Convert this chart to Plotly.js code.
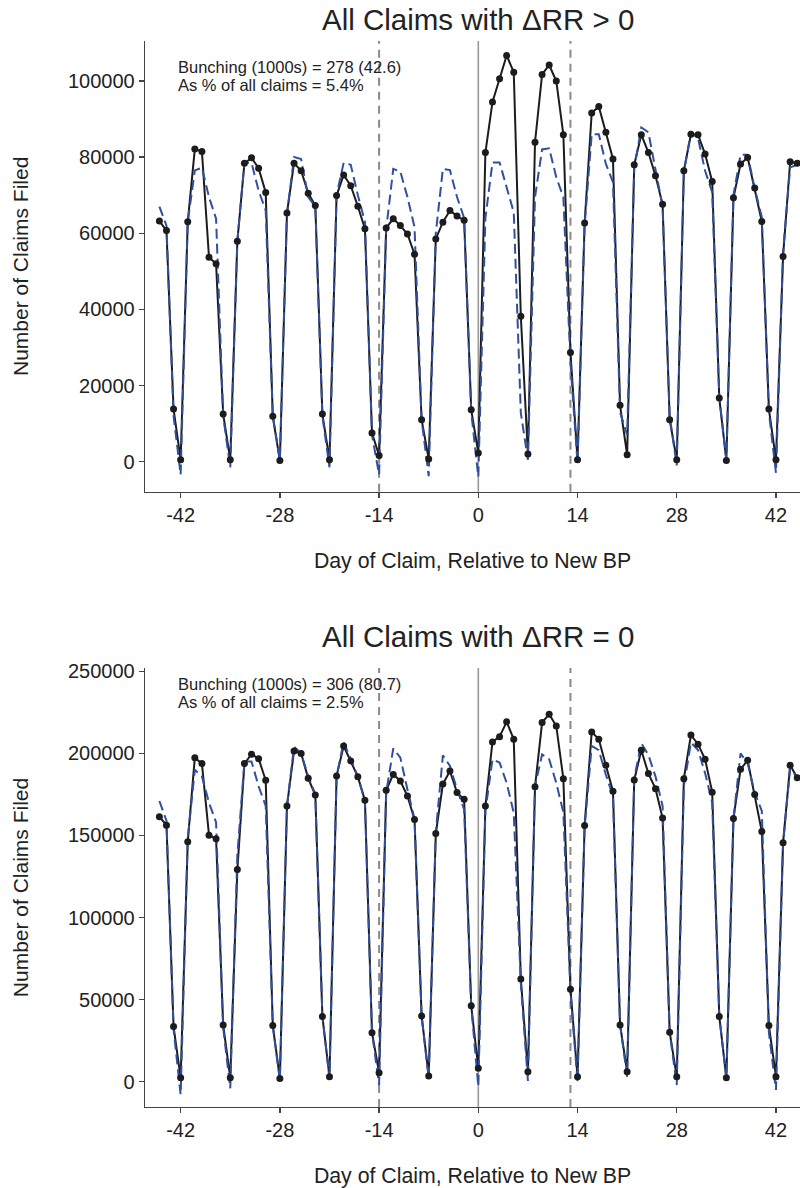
<!DOCTYPE html>
<html>
<head>
<meta charset="utf-8">
<script src="https://cdn.plot.ly/plotly-3.0.1.min.js"></script>
<style>
  html, body { margin: 0; padding: 0; background: #ffffff; overflow: hidden; }
  #chart { width: 800px; height: 1188px; }
</style>
</head>
<body>
<div id="chart"></div>
<script>
// Day of claim relative to the new benefit period
const days = [-45,-44,-43,-42,-41,-40,-39,-38,-37,-36,-35,-34,-33,-32,-31,-30,-29,-28,-27,-26,-25,-24,-23,-22,-21,-20,-19,-18,-17,-16,-15,-14,-13,-12,-11,-10,-9,-8,-7,-6,-5,-4,-3,-2,-1,
  0,1,2,3,4,5,6,7,8,9,10,11,12,13,14,15,16,17,18,19,20,21,22,23,24,25,26,27,28,29,30,31,32,33,34,35,36,37,38,39,40,41,42,43,44,45];

// Panel 1: claims with dRR > 0 — observed counts
const posObserved = [63200,60700,13800,500,63000,82100,81500,53700,52000,12500,500,57900,78400,79800,77100,70700,11900,300,65300,78400,76400,70500,67300,12500,500,69900,75300,72500,67100,61200,7500,1600,61400,63800,62000,59800,54500,11000,700,58500,62900,66000,64500,63400,13600,
  2300,81200,94500,100600,106700,102300,38200,2000,83900,101700,104200,100000,85900,28700,500,62700,91600,93300,86500,79500,14800,1800,78000,85900,81200,75100,67600,11000,500,76400,86000,85900,80800,73600,16700,300,69300,78200,79900,71900,63100,13800,500,53900,78800,78400];

// Panel 1: counterfactual counts
const posCounterfactual = [67000,62000,12000,-3400,63000,76500,77200,69500,63800,12000,-1600,58000,78600,78500,71200,66000,12000,500,65000,80000,79500,69500,67000,12000,-1500,70000,78500,78000,70000,63000,7000,-3400,61000,76900,76200,69500,61600,11000,-3800,60000,76900,76600,69500,64000,13000,
  -4000,64000,78600,78600,72000,65500,12800,500,69500,82000,82300,74700,69500,26000,-500,62000,86000,86000,78200,73400,13000,7000,77000,87800,86500,77000,67000,12000,-1000,76000,86500,85000,76400,70800,17000,500,70000,80600,80600,71700,64300,13000,-3000,55000,77300,78000];

// Panel 2: claims with dRR = 0 — observed counts
const zeroObserved = [161400,156300,33600,2400,146200,197400,193800,150200,148000,34600,2400,129200,193800,199500,196800,183600,34200,2000,167900,201500,199900,184800,174600,39700,3000,186200,204500,195400,185800,171400,29900,5500,177500,187200,183200,174000,159800,40100,3500,151200,181300,189300,176100,172000,46200,
  8200,167900,207000,210200,219200,208600,62500,6100,179700,218800,223900,216700,184600,56400,3100,156100,213100,208600,192700,177000,34600,6100,183800,201900,187700,178500,160600,30200,3100,184600,211200,205600,196400,176400,39700,2400,160400,190300,195800,175000,152400,34200,3100,145500,192700,185200];

// Panel 2: counterfactual counts
const zeroCounterfactual = [171000,159000,32000,-8000,148000,190000,186000,170000,158000,33000,-4000,138000,195000,195000,180000,168000,34000,1000,168000,204000,200000,186000,175000,40000,2000,186000,207000,196000,186000,171000,30000,-2000,176000,203000,197400,178000,160000,40000,2000,152000,198800,192300,178000,165800,46000,
  -3000,165000,196400,194400,182000,163800,60000,500,180000,199400,196400,182000,164000,55000,0,155000,204500,202000,187000,174000,35000,3000,185000,206200,199000,186000,168000,30000,-2000,180000,206600,202000,188000,170000,40000,2000,160000,200000,194000,176000,165000,30000,-5000,145000,191000,185000];

// Tick marks and reference days
const dayTicks = [-42, -28, -14, 0, 14, 28, 42];
const dayTickLabels = ['-42', '-28', '-14', '0', '14', '28', '42'];
const posTicks = [0, 20000, 40000, 60000, 80000, 100000];
const zeroTicks = [0, 50000, 100000, 150000, 200000, 250000];
const windowEdges = [-14, 13];
const newBpDay = 0;

const panelTitles = ['All Claims with \u0394RR > 0', 'All Claims with \u0394RR = 0'];
const bunchingLines = [
  ['Bunching (1000s) = 278 (42.6)', 'As % of all claims = 5.4%'],
  ['Bunching (1000s) = 306 (80.7)', 'As % of all claims = 2.5%']
];

const FONT = 'Liberation Sans, Arial, Helvetica, sans-serif';
const INK = '#1c1c1c';
const BLUE = '#2f4f9f';
const AXIS = '#444444';

function panelTraces(obs, cf, xa, ya) {
  return [
    { x: days, y: obs, xaxis: xa, yaxis: ya, type: 'scatter', mode: 'lines',
      line: { color: INK, width: 2 }, hoverinfo: 'skip' },
    { x: days, y: cf, xaxis: xa, yaxis: ya, type: 'scatter', mode: 'lines',
      line: { color: BLUE, width: 2, dash: '10px,5px' }, hoverinfo: 'skip' },
    { x: days, y: obs, xaxis: xa, yaxis: ya, type: 'scatter', mode: 'markers',
      marker: { color: INK, size: 7 }, hoverinfo: 'skip' }
  ];
}

const data = [].concat(
  panelTraces(posObserved, posCounterfactual, 'x', 'y'),
  panelTraces(zeroObserved, zeroCounterfactual, 'x2', 'y2')
);

function xAxis(anchor) {
  return {
    anchor: anchor, domain: [0, 1], range: [-47.03, 45.39],
    tickmode: 'array', tickvals: dayTicks, ticktext: dayTickLabels,
    ticks: 'outside', ticklen: 5, tickwidth: 1.3, tickcolor: AXIS,
    showline: true, linecolor: AXIS, linewidth: 1.3,
    showgrid: false, zeroline: false,
    tickfont: { family: FONT, size: 20, color: '#222' },
    title: { text: 'Day of Claim, Relative to New BP', standoff: 28,
             font: { family: FONT, size: 21.3, color: '#222' } }
  };
}

function yAxis(anchor, domain, range, ticks) {
  return {
    anchor: anchor, domain: domain, range: range,
    tickmode: 'array', tickvals: ticks, tickformat: 'd',
    ticks: 'outside', ticklen: 5, tickwidth: 1.3, tickcolor: AXIS,
    showline: true, linecolor: AXIS, linewidth: 1.3,
    showgrid: false, zeroline: false,
    tickfont: { family: FONT, size: 20, color: '#222' },
    title: { text: 'Number of Claims Filed', standoff: 33,
             font: { family: FONT, size: 21, color: '#222' } }
  };
}

function refLines(xref, yref) {
  const shapes = windowEdges.map(d => ({
    type: 'line', xref: xref, yref: yref + ' domain', x0: d, x1: d, y0: 0, y1: 1,
    line: { color: '#8a8a8a', width: 2, dash: '8px,6px' }, layer: 'below'
  }));
  shapes.push({
    type: 'line', xref: xref, yref: yref + ' domain', x0: newBpDay, x1: newBpDay, y0: 0, y1: 1,
    line: { color: '#9a9a9a', width: 1.6 }, layer: 'below'
  });
  return shapes;
}

function textNote(text, y, size, anchor, x) {
  return { text: text, xref: 'paper', yref: 'paper', x: x, y: y,
           xanchor: anchor, yanchor: 'middle', showarrow: false,
           font: { family: FONT, size: size, color: '#222' } };
}

const annotations = [
  textNote(panelTitles[0], 1.0197, 29.5, 'center', 0.5084),
  textNote(panelTitles[1], 0.4418, 29.5, 'center', 0.5084),
  textNote(bunchingLines[0][0], 0.9756, 16.5, 'left', 0.0473),
  textNote(bunchingLines[0][1], 0.9587, 16.5, 'left', 0.0473),
  textNote(bunchingLines[1][0], 0.3968, 16.5, 'left', 0.0473),
  textNote(bunchingLines[1][1], 0.3799, 16.5, 'left', 0.0473)
];

const layout = {
  width: 800, height: 1188,
  margin: { l: 145, r: 0, t: 41, b: 81 },
  paper_bgcolor: '#ffffff', plot_bgcolor: '#ffffff',
  showlegend: false,
  font: { family: FONT, color: '#222' },
  xaxis: xAxis('y'),
  yaxis: yAxis('x', [0.5772, 1], [-7900, 110500], posTicks),
  xaxis2: xAxis('y2'),
  yaxis2: yAxis('x2', [0, 0.4118], [-15400, 252000], zeroTicks),
  shapes: refLines('x', 'y').concat(refLines('x2', 'y2')),
  annotations: annotations
};

Plotly.newPlot('chart', data, layout, { displayModeBar: false, staticPlot: true });
</script>
</body>
</html>
